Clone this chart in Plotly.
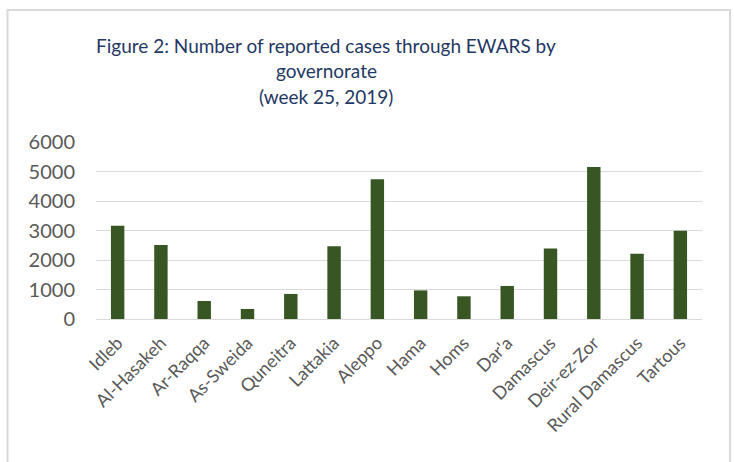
import plotly.graph_objects as go

governorates = ["Idleb", "Al-Hasakeh", "Ar-Raqqa", "As-Sweida", "Quneitra", "Lattakia",
                "Aleppo", "Hama", "Homs", "Dar'a", "Damascus", "Deir-ez-Zor",
                "Rural Damascus", "Tartous"]
cases = [3160, 2510, 610, 340, 850, 2470, 4740, 970, 770, 1120, 2390, 5150, 2210, 2990]
y_ticks = [0, 1000, 2000, 3000, 4000, 5000, 6000]

FONT = "Lato"
W, H = 734, 462
L, R, T, B = 96, 32, 142, 143
pw, ph = W - L - R, H - T - B

def px_x(x):
    return (x - L) / pw

def px_y(y):
    return (H - B - y) / ph

fig = go.Figure(go.Bar(
    x=governorates, y=cases,
    marker=dict(color="#375623", line=dict(color="#375623", width=0)),
    width=0.31,
))

fig.update_layout(
    width=W, height=H,
    margin=dict(l=L, r=R, t=T, b=B),
    paper_bgcolor="white", plot_bgcolor="white",
    showlegend=False,
    font=dict(family=FONT, color="#595959"),
    xaxis=dict(
        tickangle=-45, tickfont=dict(size=18, color="#595959", family=FONT),
        ticklabelstandoff=9,
        showgrid=False, showline=False, ticks="", automargin=False,
    ),
    yaxis=dict(
        range=[0, 6000], tickvals=y_ticks, ticktext=[str(v) for v in y_ticks],
        tickfont=dict(size=20, color="#595959", family=FONT),
        ticklabelstandoff=20,
        showgrid=True, gridcolor="#D9D9D9", gridwidth=1.3,
        zeroline=True, zerolinecolor="#D9D9D9", zerolinewidth=1.3,
        showline=False, ticks="", ticklen=0, automargin=False,
    ),
    shapes=[dict(
        type="rect", xref="paper", yref="paper",
        x0=px_x(7.5), x1=px_x(730), y0=px_y(10), y1=px_y(480),
        line=dict(color="#D9D9D9", width=2), fillcolor="rgba(0,0,0,0)",
        layer="below",
    )],
    annotations=[
        dict(text="Figure 2: Number of reported cases through EWARS by",
             xref="paper", yref="paper", x=px_x(326), y=px_y(45),
             xanchor="center", yanchor="middle", showarrow=False,
             font=dict(size=19, color="#1F3864", family=FONT)),
        dict(text="governorate",
             xref="paper", yref="paper", x=px_x(326), y=px_y(70),
             xanchor="center", yanchor="middle", showarrow=False,
             font=dict(size=19, color="#1F3864", family=FONT)),
        dict(text="(week 25, 2019)",
             xref="paper", yref="paper", x=px_x(326), y=px_y(96),
             xanchor="center", yanchor="middle", showarrow=False,
             font=dict(size=19, color="#1F3864", family=FONT)),
    ],
)

fig.write_html("out.html", config={"displayModeBar": False},
               post_script="document.body.style.margin='0';")
